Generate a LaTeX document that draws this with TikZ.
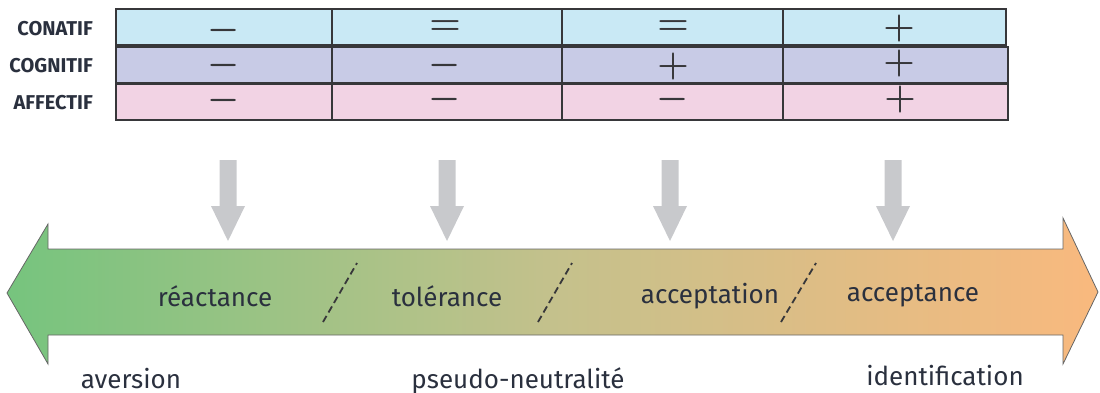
\RequirePackage{fix-cm}
\documentclass[tikz,border=0pt]{standalone}
\usepackage{fontspec}
\setmainfont{Fira Sans}
\definecolor{rowA}{RGB}{201,233,245}
\definecolor{rowB}{RGB}{200,203,230}
\definecolor{rowC}{RGB}{242,211,228}
\definecolor{gridc}{RGB}{55,55,58}
\definecolor{txtc}{RGB}{42,48,62}
\definecolor{grayarrow}{RGB}{200,201,204}
\definecolor{gL}{RGB}{118,196,126}
\definecolor{gM}{RGB}{196,193,140}
\definecolor{gR}{RGB}{249,185,126}
\tikzset{
  rowbox/.style={draw=gridc, line width=1.5pt},
  rowlabel/.style={anchor=east, text=txtc, font=\fontsize{20}{20}\selectfont\bfseries, inner sep=0pt},
  sym/.style={text=gridc, font=\fontsize{36}{36}\selectfont\boldmath, inner sep=0pt},
  downarrow/.style={fill=grayarrow, draw=none},
  sepdash/.style={draw=gridc, line width=1.8pt, dash pattern=on 7pt off 4pt},
  zonelabel/.style={text=txtc, font=\fontsize{26}{26}\selectfont, inner sep=0pt},
  polelabel/.style={text=txtc, font=\fontsize{26}{26}\selectfont, inner sep=0pt, anchor=base},
}
\begin{document}
\begin{tikzpicture}[x=1pt, y=-1pt]
\useasboundingbox (0,0) rectangle (1100,392);
% table rows
\draw[rowbox, fill=rowA] (116,9) rectangle (1006,45);
\draw[rowbox, fill=rowB] (116,47) rectangle (1008,83);
\draw[rowbox, fill=rowC] (116,84) rectangle (1008,120);
\foreach \x in {332,562,783} \draw[gridc, line width=1.2pt] (\x,9) -- (\x,120);
% row labels
\node[rowlabel] (lconatif) at (93,29) {CONATIF};
\node[rowlabel] (lcognitif) at (93,66) {COGNITIF};
\node[rowlabel] (laffectif) at (93,103) {AFFECTIF};
% symbols
\node[sym] (a1) at (224,30) {$-$};
\node[sym] (a2) at (445,28) {$=$};
\node[sym] (a3) at (673,28) {$=$};
\node[sym] (a4) at (899,28) {$+$};
\node[sym] (b1) at (224,65) {$-$};
\node[sym] (b2) at (445,65) {$-$};
\node[sym] (b3) at (673,66) {$+$};
\node[sym] (b4) at (899,63) {$+$};
\node[sym] (c1) at (224,100) {$-$};
\node[sym] (c2) at (445,99) {$-$};
\node[sym] (c3) at (673,99) {$-$};
\node[sym] (c4) at (900,99) {$+$};
% gray down arrows
\foreach \c in {228,447,670,893}
  \fill[downarrow] (\c-8.5,160) -- (\c+8.5,160) -- (\c+8.5,206) -- (\c+17,206) -- (\c,241) -- (\c-17,206) -- (\c-8.5,206) -- cycle;
% big double arrow
\draw[draw=gray!80!black, line width=0.8pt, left color=gL, right color=gR, middle color=gM]
  (7,293) -- (48,224) -- (48,249) -- (1063,249) -- (1063,218) -- (1098,292) -- (1063,364) -- (1063,335) -- (48,335) -- (48,364) -- cycle;
% separators
\draw[sepdash] (323,322) -- (357,263);
\draw[sepdash] (538,322) -- (572,263);
\draw[sepdash] (781,322) -- (816,263);
% zone labels
\node[zonelabel] (reac) at (215,296) {réactance};
\node[zonelabel] (tole) at (447,296) {tolérance};
\node[zonelabel] (acca) at (710,296) {acceptation};
\node[zonelabel] (acce) at (913,296) {acceptance};
% pole labels
\node[polelabel] (aver) at (131,388) {aversion};
\node[polelabel] (pseu) at (518,388) {pseudo-neutralité};
\node[polelabel] (iden) at (945,385) {identification};
\end{tikzpicture}
\end{document}
